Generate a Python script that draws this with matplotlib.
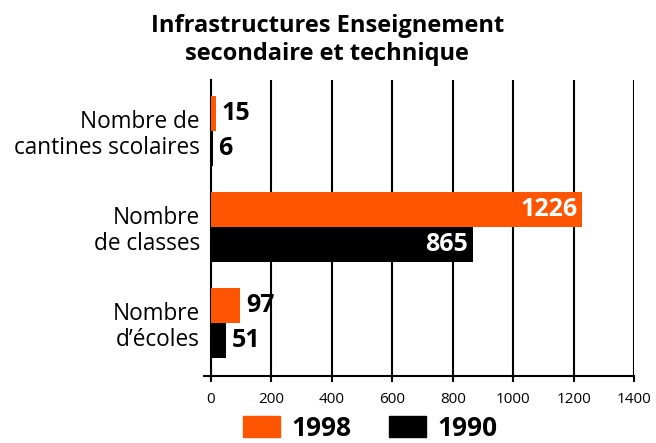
import matplotlib.pyplot as plt
from matplotlib.patches import Patch

plt.rcParams['font.family'] = ['Open Sans', 'DejaVu Sans']

# data, bottom to top
categories = ["Nombre\nd\u2019\u00e9coles", "Nombre\nde classes", "Nombre de\ncantines scolaires"]
values_1998 = [97, 1226, 15]
values_1990 = [51, 865, 6]
years = ["1998", "1990"]
colors = ["#FF5500", "#000000"]
xticks = [0, 200, 400, 600, 800, 1000, 1200, 1400]

fig = plt.figure(figsize=(6.56, 4.43), dpi=100)
ax = fig.add_axes([211 / 656, 1 - 376 / 443, (634.3 - 211) / 656, (376 - 80) / 443])

h = 0.36
pos = list(range(len(categories)))
bars_a = ax.barh([p + h / 2 for p in pos], values_1998, height=h, color=colors[0], zorder=3)
bars_b = ax.barh([p - h / 2 for p in pos], values_1990, height=h, color=colors[1], zorder=3)

# value labels: big ones inside in white, small ones outside
for bars, vals in ((bars_a, values_1998), (bars_b, values_1990)):
    for b, v in zip(bars, vals):
        yc = b.get_y() + b.get_height() / 2
        if v > 500:
            ax.annotate(str(v), (v, yc), xytext=(-3, 0), textcoords='offset points',
                        ha='right', va='center', color='white', fontsize=18, fontweight='bold', zorder=4)
        else:
            ax.annotate(str(v), (v, yc), xytext=(4, 0), textcoords='offset points',
                        ha='left', va='center', color='black', fontsize=18, fontweight='bold', zorder=4)

ax.set_xlim(0, 1400)
ax.set_ylim(-0.552, 2.531)
ax.set_xticks(xticks)
ax.set_xticklabels([str(t) for t in xticks], fontsize=11)
ax.set_yticks(pos)
ax.set_yticklabels(categories, fontsize=16.3, linespacing=1.1)
ax.tick_params(axis='y', length=0, pad=8)
ax.tick_params(axis='x', direction='out', length=4.5, width=1.5, color='black', pad=7)

ax.grid(axis='x', color='black', lw=1.5)
ax.set_axisbelow(True)
for s in ('top', 'right', 'bottom'):
    ax.spines[s].set_visible(False)
ax.spines['left'].set_linewidth(1.5)
ax.plot([-0.016, 1.0], [0, 0], transform=ax.transAxes, color='black', lw=1.5, clip_on=False)

fig.text(0.499, 1 - 14 / 443, "Infrastructures Enseignement\nsecondaire et technique",
         ha='center', va='top', fontsize=17, fontweight='bold', linespacing=1.22)

handles = [Patch(color=c) for c in colors]
fig.legend(handles, years, loc='lower left', bbox_to_anchor=(243 / 656, 1 / 443), ncol=2,
           frameon=False, prop={'size': 19, 'weight': 'bold'}, handlelength=1.4, handleheight=0.85,
           handletextpad=0.45, columnspacing=1.4, borderaxespad=0, borderpad=0)

fig.savefig('out.png', dpi=100)
